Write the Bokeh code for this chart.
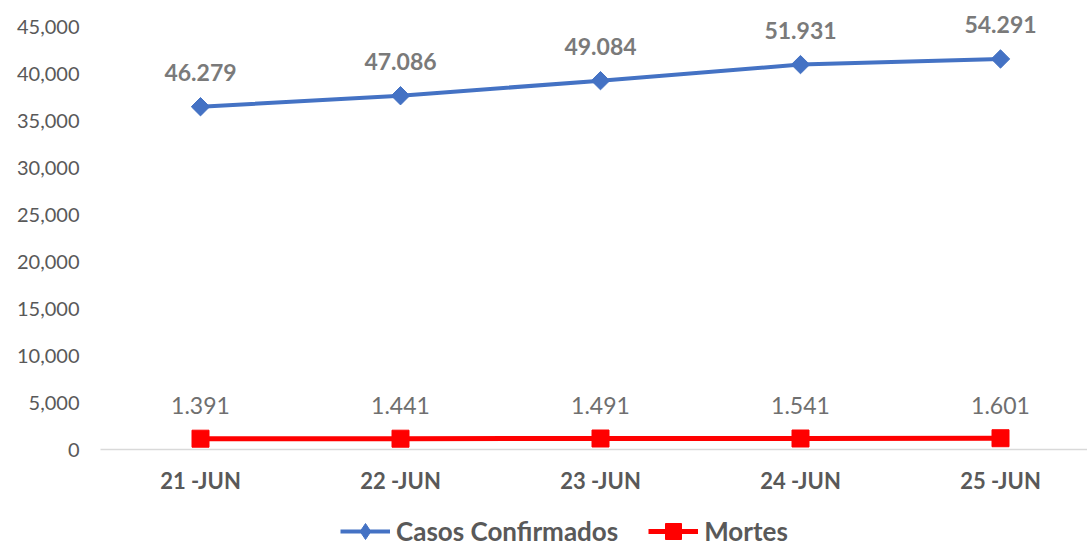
from bokeh.plotting import figure
from bokeh.layouts import column
from bokeh.models import Range1d, FixedTicker, NumeralTickFormatter, ColumnDataSource, Legend, LegendItem
from bokeh.core.properties import value
from bokeh.embed import file_html
from bokeh.resources import INLINE

categories = ["21 -JUN", "22 -JUN", "23 -JUN", "24 -JUN", "25 -JUN"]
casos = [36470, 37640, 39240, 40950, 41550]
casos_labels = ["46.279", "47.086", "49.084", "51.931", "54.291"]
mortes = [1150, 1150, 1170, 1170, 1200]
mortes_labels = ["1.391", "1.441", "1.491", "1.541", "1.601"]
series_names = ["Casos Confirmados", "Mortes"]
y_ticks = [0, 5000, 10000, 15000, 20000, 25000, 30000, 35000, 40000, 45000]

FONT = "Lato"
BLUE = "#4472C4"
RED = "#FF0000"
xs = list(range(1, len(categories) + 1))

src_c = ColumnDataSource(dict(x=xs, y=casos, t=casos_labels))
src_m = ColumnDataSource(dict(x=xs, y=mortes, t=mortes_labels))

p = figure(frame_width=987, frame_height=449, output_backend="svg", toolbar_location=None,
           x_range=Range1d(0.5, 5.435), y_range=Range1d(0, 47770),
           min_border_left=100, min_border_right=0, min_border_top=0, min_border_bottom=50)
p.outline_line_color = None
p.xgrid.visible = False
p.ygrid.visible = False

# y axis
p.yaxis.ticker = FixedTicker(ticks=y_ticks)
p.yaxis.formatter = NumeralTickFormatter(format="0,0")
p.yaxis.axis_line_color = None
p.yaxis.major_tick_line_color = None
p.yaxis.minor_tick_line_color = None
p.yaxis.major_tick_out = 0
p.yaxis.major_label_standoff = 21
p.yaxis.major_label_text_font = FONT
p.yaxis.major_label_text_font_size = "20px"
p.yaxis.major_label_text_color = "#595959"

# x axis
p.xaxis.ticker = FixedTicker(ticks=xs)
p.xaxis.major_label_overrides = {x: c for x, c in zip(xs, categories)}
p.xaxis.axis_line_color = "#d9d9d9"
p.xaxis.axis_line_width = 1.5
p.xaxis.major_tick_line_color = None
p.xaxis.minor_tick_line_color = None
p.xaxis.major_tick_out = 0
p.xaxis.major_label_standoff = 17
p.xaxis.major_label_text_font = FONT
p.xaxis.major_label_text_font_size = "22px"
p.xaxis.major_label_text_font_style = "bold"
p.xaxis.major_label_text_color = "#595959"

p.line("x", "y", source=src_c, line_color=BLUE, line_width=4)
p.scatter("x", "y", source=src_c, marker="square", angle=0.7854, size=13,
          fill_color=BLUE, line_color=BLUE)
p.line("x", "y", source=src_m, line_color=RED, line_width=5)
p.scatter("x", "y", source=src_m, marker="square", size=17,
          fill_color=RED, line_color=RED)

p.text("x", "y", text="t", source=src_c, y_offset=-34, text_align="center",
       text_baseline="middle", text_font=value(FONT), text_font_size="23px",
       text_font_style="bold", text_color="#7a7a7a")
p.text("x", "y", text="t", source=src_m, y_offset=-33, text_align="center",
       text_baseline="middle", text_font=value(FONT), text_font_size="23px",
       text_color="#6f6f6f")

# legend strip below the chart (renderers hold the same data but sit outside the visible range)
lg = figure(width=1087, height=52, output_backend="svg", toolbar_location=None,
            x_range=Range1d(100, 101), y_range=Range1d(100000, 100001),
            min_border_left=0, min_border_right=0, min_border_top=0, min_border_bottom=0)
lg.axis.visible = False
lg.xgrid.visible = False
lg.ygrid.visible = False
lg.outline_line_color = None
ll1 = lg.line("x", "y", source=src_c, line_color=BLUE, line_width=4)
ls1 = lg.scatter("x", "y", source=src_c, marker="diamond", size=20,
                 fill_color=BLUE, line_color=BLUE)
ll2 = lg.line("x", "y", source=src_m, line_color=RED, line_width=5)
ls2 = lg.scatter("x", "y", source=src_m, marker="square", size=17,
                 fill_color=RED, line_color=RED)

legend = Legend(items=[LegendItem(label=series_names[0], renderers=[ll1, ls1]),
                       LegendItem(label=series_names[1], renderers=[ll2, ls2])],
                orientation="horizontal", location=(240, 0),
                label_text_font=FONT, label_text_font_size="26px",
                label_text_font_style="bold", label_text_color="#595959",
                glyph_width=50, glyph_height=40, label_standoff=6, spacing=30,
                margin=0, padding=4,
                border_line_color=None, background_fill_alpha=0)
lg.add_layout(legend, "center")

layout = column(p, lg, spacing=0)
open("out.html", "w").write(file_html(layout, INLINE))
